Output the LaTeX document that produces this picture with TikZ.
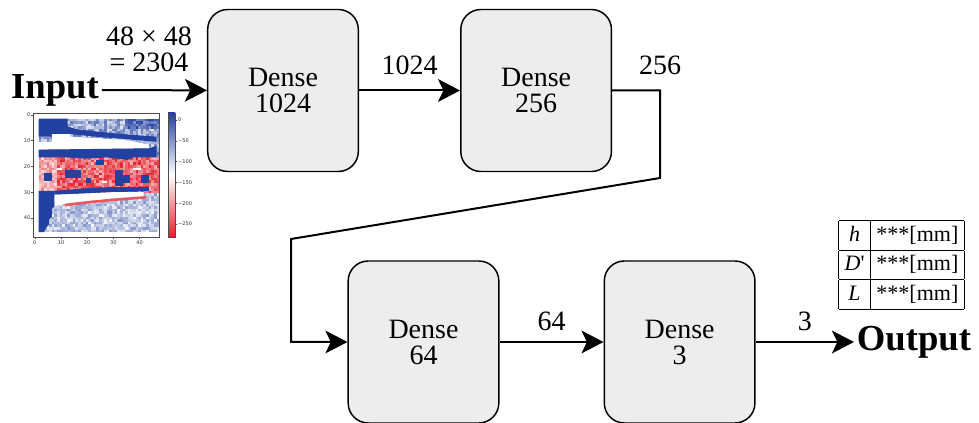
\documentclass[tikz,border=0pt]{standalone}
\usepackage{fontspec}
\setmainfont{Liberation Serif}
\newfontfamily\plotfont{DejaVu Sans}
\usetikzlibrary{positioning,arrows.meta}
\definecolor{hmblue}{RGB}{35,65,160}
\definecolor{hmred}{RGB}{228,30,40}
\tikzstyle{layer} = [rectangle, rounded corners=15pt, minimum width=113pt, minimum height=121.5pt, align=center, draw=black, line width=1.1pt, fill=black!7, font=\fontsize{21}{19.5}\selectfont]
\tikzstyle{line} = [draw, line width=1.5pt, -{Stealth[length=16.5pt,width=17pt,inset=4pt]}]
\tikzstyle{lbl} = [font=\fontsize{21}{19.5}\selectfont, inner sep=0pt, align=center]
\tikzstyle{io} = [font=\fontsize{27.5}{30}\selectfont\bfseries, inner sep=2pt]
\tikzstyle{ticklbl} = [font=\fontsize{3.8}{4}\selectfont\plotfont, inner sep=0.6pt, text=black!80]

\begin{document}
\begin{tikzpicture}[x=0.75pt, y=-0.75pt]
			\useasboundingbox (0,0) rectangle (979,423);
			% Input map
			\pgfmathsetseed{7}
			\begin{scope}[shift={(33.5,113.5)}, x=1.965pt, y=-1.935pt]
				\foreach \r in {2,...,45}{
					\foreach \c in {2,...,47}{
						\pgfmathsetmacro\v{rnd}
						\ifnum\r<17
							\pgfmathtruncatemacro\p{15+60*\v}\def\hue{hmblue}
							\ifnum\c>34 \ifnum\r<6 \pgfmathtruncatemacro\p{55+45*\v}\fi\fi
						\else\ifnum\r<31
							\pgfmathtruncatemacro\p{35+65*\v}\def\hue{hmred}
							\ifnum\c<9 \pgfmathtruncatemacro\p{15+45*\v}\fi
						\else
							\pgfmathtruncatemacro\p{5+50*\v}\def\hue{hmblue}
						\fi\fi
						\fill[\hue!\p] (\c-0.03,\r-0.03) rectangle ++(1.06,1.06);
					}
				}
				\fill[hmblue] (2,2) -- (13,2) -- (13,5) -- (16,6) -- (24,7) -- (34,8) -- (47,9) -- (47,11) -- (36,10) -- (24,9) -- (14,8) -- (12,8) -- (12,9) -- (2,9) -- cycle;
				\fill[white] (7,8) -- (14,8) -- (14,9) -- (24,9.5) -- (36,10.5) -- (44,12) -- (44,13.5) -- (2,14) -- (2,11) -- (7,11) -- cycle;
				\fill[hmblue] (2,14) -- (44,13.5) -- (47,12.5) -- (47,17) -- (38,17) -- (36,18) -- (28,17) -- (20,17.5) -- (12,17) -- (2,17) -- cycle;
				\fill[hmblue] (4,23) rectangle (7,26);
				\fill[hmblue] (12,22) rectangle (18,25);
				\fill[hmblue] (31,22) rectangle (34,28);
				\fill[hmblue] (34,24) rectangle (37,27);
				\fill[hmblue] (41,24) rectangle (44,27);
				\fill[hmblue] (24,18) rectangle (27,20);
				\fill[hmblue] (20,25) rectangle (22,27);
				\fill[white] (9,21) rectangle (11,22);
				\fill[white] (26,26) rectangle (28,27);
				\fill[white] (38,21) rectangle (41,22);
				\fill[hmblue] (8,30) -- (20,29) -- (30,28.5) -- (44,28.5) -- (44,30) -- (30,30.5) -- (20,31) -- (8,31.5) -- cycle;
				\fill[white] (8,31.5) -- (20,31) -- (30,30.5) -- (42,30.5) -- (42,32) -- (30,33) -- (20,34) -- (12,35) -- (8,36) -- cycle;
				\fill[hmred!75] (12,35) -- (20,34) -- (30,33) -- (43,32) -- (43,33) -- (30,34) -- (20,35) -- (12,36) -- cycle;
				\fill[hmblue] (2,30) -- (8,30) -- (8,36) -- (7,37) -- (7,40) -- (6,41) -- (6,43) -- (5,44) -- (4,46) -- (2,46) -- cycle;
				\draw[line width=0.3pt, black!70] (0,0) rectangle (48,48);
				\foreach \t in {0,10,20,30,40}{
					\draw[line width=0.3pt, black!70] (\t+0.5,48) -- ++(0,0.8);
					\node[ticklbl, below] (xt\t) at (\t+0.5,48.8) {\t};
					\draw[line width=0.3pt, black!70] (0,\t+0.5) -- ++(-0.8,0);
					\node[ticklbl, left] (yt\t) at (-0.8,\t+0.5) {\t};
				}
			\end{scope}
			\shade[top color=hmblue, bottom color=hmred, middle color=white] (168,113) rectangle (175,237);
			\draw[line width=0.3pt, black!70] (168,113) rectangle (175,237);
			\foreach \t/\lab [count=\i from 0] in {120/0, 140.8/−50, 161.6/−100, 182.4/−150, 203.2/−200, 224/−250}{
				\draw[line width=0.3pt, black!70] (175,\t) -- (177,\t);
				\node[ticklbl, anchor=west] (cb\i) at (177,\t) {\lab};
			}
			% Place nodes
			\node [io] (in) at (55,90) {Input};
			\node [layer] (d1) at (283,90.5) {Dense\\1024};
			\node [layer, right=75.75pt of d1] (d2) {Dense\\256};
			\node [layer] (d3) at (423.5,342) {Dense\\64};
			\node [layer, right=78pt of d3] (d4) {Dense\\3};
			\node [io] (out) at (914,342) {Output};
			\node [inner sep=0pt, font=\fontsize{16.5}{19.8}\selectfont] (tbl) at (901.5,265) {\setlength\tabcolsep{4.5pt}\setlength\arrayrulewidth{0.8pt}\renewcommand\arraystretch{1.08}\begin{tabular}{|c|c|}\hline \textit{h} & ***[mm]\\\hline \textit{D}\textquotesingle & ***[mm]\\\hline \textit{L} & ***[mm]\\\hline\end{tabular}};
			\coordinate (k1) at (660,90.5);
			\coordinate (k2) at (660,178);
			\coordinate (k3) at (291,239);
			\coordinate (k4) at (291,342);
			% Draw edges
			\path [line] (in) -- node [lbl, above=12.75pt, pos=0.45] (insize) {48 × 48\\= 2304} (d1);
			\path [line] (d1) -- node [lbl, above=11pt] (n1) {1024} (d2);
			\path [line] (d2.east) -- (k1) node [lbl, above=11pt] (n2) {256} -- (k2) -- (k3) -- (k4) -- (d3.west);
			\path [line] (d3) -- node [lbl, above=7.7pt] (n3) {64} (d4);
			\path [line] (d4) -- node [lbl, above=7.7pt] (n4) {3} (out);
			\end{tikzpicture}
\end{document}
